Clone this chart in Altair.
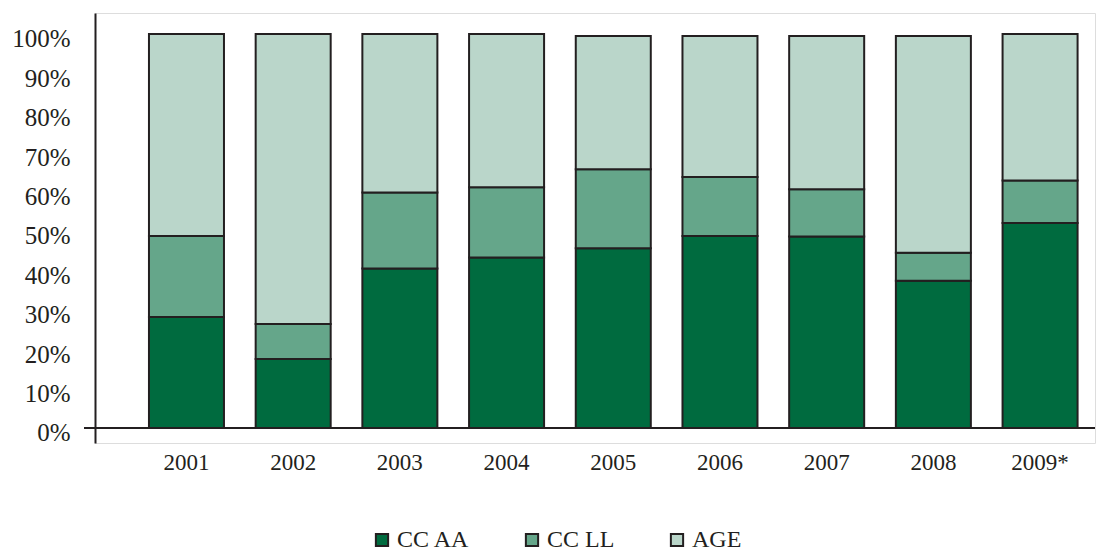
import altair as alt
import pandas as pd

# Share of each administration level per year (percent, stacked bottom to top)
years = ["2001", "2002", "2003", "2004", "2005", "2006", "2007", "2008", "2009*"]
cc_aa = [28.2, 17.5, 40.5, 43.3, 45.6, 48.7, 48.6, 37.4, 52.0]
cc_ll = [20.5, 8.9, 19.3, 17.8, 20.1, 15.0, 12.0, 7.1, 10.8]
age = [51.3, 73.6, 40.2, 38.9, 33.8, 35.8, 38.9, 55.0, 37.2]

series = ["CC AA", "CC LL", "AGE"]
colors = ["#006B3F", "#65A68A", "#BAD6CA"]
ink = "#231F20"
font = "Liberation Serif"

rows = []
for i, yr in enumerate(years):
    for k, (name, vals) in enumerate(zip(series, [cc_aa, cc_ll, age])):
        rows.append({"year": yr, "series": name, "value": vals[i], "idx": k})
df = pd.DataFrame(rows)

W, H = 1000, 430
yscale = alt.Scale(domain=[-3.81, 105.33], nice=False, zero=False)

bars = alt.Chart(df).mark_bar(stroke=ink, strokeWidth=2).encode(
    x=alt.X(
        "year:N",
        sort=years,
        scale=alt.Scale(paddingInner=0.297, paddingOuter=0.3345, align=0.756),
        axis=alt.Axis(
            title=None, domain=False, ticks=False, labelAngle=0,
            labelFont=font, labelFontSize=23, labelColor=ink, labelPadding=8,
        ),
    ),
    y=alt.Y(
        "value:Q",
        stack="zero",
        scale=yscale,
        axis=alt.Axis(
            title=None, values=list(range(0, 101, 10)), grid=False, ticks=False,
            labelExpr="datum.value + '%'", labelFont=font, labelFontSize=25,
            labelColor=ink, labelPadding=25, labelOffset=5,
            domainColor=ink, domainWidth=2,
        ),
    ),
    color=alt.Color(
        "series:N",
        scale=alt.Scale(domain=series, range=colors),
        legend=alt.Legend(
            title=None, orient="none", legendX=275, legendY=515,
            direction="horizontal", symbolType="square", symbolSize=150,
            symbolStrokeColor=ink, symbolStrokeWidth=2, symbolOpacity=1,
            labelFont=font, labelFontSize=24, labelColor=ink,
            labelOffset=3, columnPadding=50,
        ),
    ),
    order=alt.Order("idx:Q", sort="ascending"),
)

baseline = alt.Chart(pd.DataFrame({"v": [0]})).mark_rule(
    color=ink, strokeWidth=2
).encode(
    y=alt.Y("v:Q", scale=yscale),
    x=alt.value(-11),
    x2=alt.value(W),
)

chart = (
    alt.layer(bars, baseline)
    .properties(
        width=W,
        height=H,
        autosize=alt.AutoSizeParams(type="none"),
        padding={"left": 95, "top": 13, "right": 4, "bottom": 108},
    )
    .configure_view(stroke=None)
    .configure(background="white")
)

chart.save("out.html", embed_options={"renderer": "svg", "actions": False})
